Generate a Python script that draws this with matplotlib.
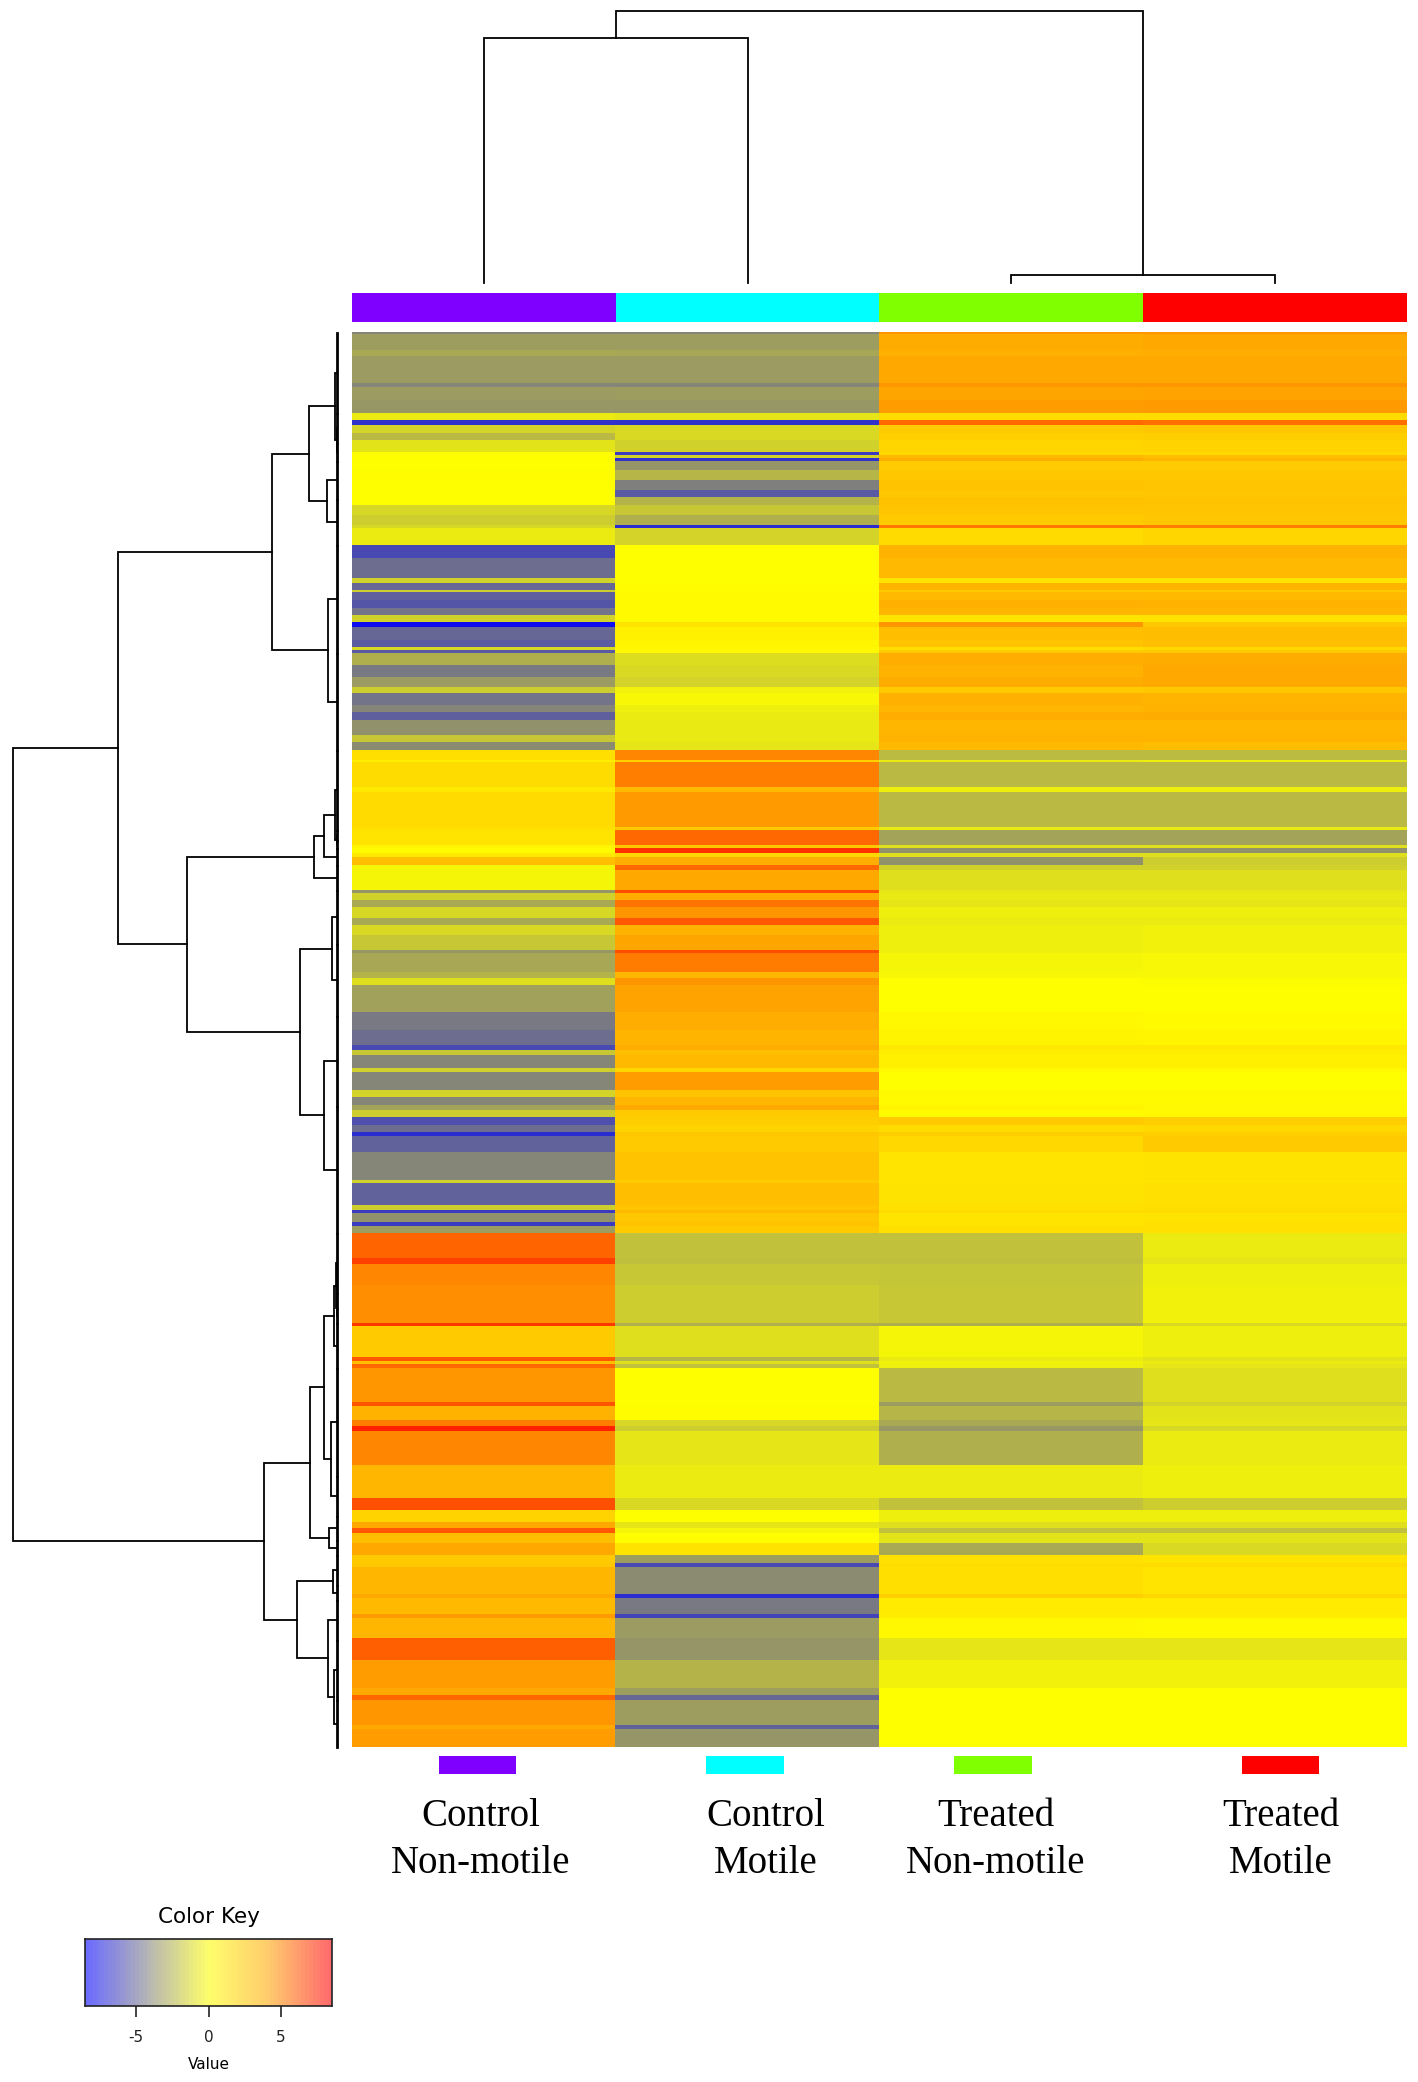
import numpy as np
import matplotlib
matplotlib.use('Agg')
import matplotlib.pyplot as plt
from matplotlib.colors import LinearSegmentedColormap, Normalize
from matplotlib.patches import Rectangle

# ---- data: row blocks of the heatmap (number of rows, value per sample) ----
seg_rows = [2, 16, 6, 27, 4, 13, 13, 7, 5, 8, 7, 12, 3, 3, 3, 9, 10, 10, 7, 8, 10, 10, 3, 17, 13, 20,
            5, 7, 2, 8, 8, 7, 7, 5, 13, 7, 3, 3, 12, 12, 10, 6, 12, 7, 8, 15, 7, 8,
            10, 2, 25, 5, 35,
            3, 15, 3, 5, 4, 8, 5, 20, 3, 7, 7, 11, 7, 10, 15, 3, 19, 6, 7, 27, 18, 15, 5,
            5, 13, 4, 18, 7, 8, 5, 7, 8, 7, 4, 16, 28, 3, 22, 5, 3, 9, 4, 7,
            25, 6, 21, 38, 3, 31, 4, 3, 4, 34, 4, 14, 6, 5, 34, 33, 12, 12, 6, 5, 10, 12, 8, 4, 27, 4,
            16, 4, 20, 22, 28, 7, 5, 25, 4, 18]

ctrl_nonmotile = [-4.0, -3.2, -2.8, -3.3, -4.0, -3.3, -3.4, -0.6, -6.8, -1.4, -2.3, -0.9, 0.0, 0.0, 0.0, 0.0,
                  0.1, 0.0, 0.0, 0.0, -1.3, -1.6, -1.3, -0.6, -6.0, -4.8,
                  -1.5, -5.0, -1.6, -5.3, -5.6, -4.6, -1.5, -8.0, -5.0, -5.4, -1.3, -5.5, -2.6, -4.4, -3.3,
                  -1.6, -4.6, -4.0, -5.3, -3.6, -1.8, -3.8,
                  1.5, 0.8, 1.6, 1.0, 1.7,
                  1.5, 1.2, 0.4, 0.2, 1.0, 3.0, -0.3, -0.3, -3.5, -1.5, -2.8, -1.3, -2.8, -1.2, -1.8, -3.4,
                  -2.9, -2.5, -1.0, -3.1, -4.4, -4.8, -6.0,
                  -1.8, -4.0, -1.5, -4.0, -1.4, -4.0, -3.0, -1.6, -5.8, -4.8, -7.0, -5.2, -4.0, -1.5, -5.2,
                  -1.6, -6.5, -3.6, -6.5, -3.2,
                  5.9, 6.8, 5.0, 4.8, 7.0, 2.5, 6.2, 3.0, 5.8, 4.6, 6.3, 3.6, 5.2, 7.6, 5.0, 3.4, 6.4, 2.0,
                  4.0, 6.2, 3.0, 4.0, 2.4, 2.6, 3.4, 4.0, 3.2, 4.5, 3.4, 6.0, 4.4, 4.0, 5.8, 4.6, 4.0, 4.4]

ctrl_motile = [-4.0, -3.2, -2.9, -3.3, -4.0, -3.2, -3.4, -0.8, -6.8, -1.2, -1.2, -1.5, -6.5, -1.5, -6.8, -3.5,
               -2.4, -4.2, -5.5, -2.5, -1.8, -2.6, -7.0, -1.4, 0.0, 0.0,
               0.0, 0.1, 0.1, 0.2, 0.2, 0.2, 0.2, 1.2, 0.6, 0.4, 0.3, 0.3, -1.1, -1.2, -1.4, -0.4, -0.2,
               -0.5, -0.6, -0.7, -0.7, -0.8,
               5.0, 2.2, 5.2, 3.2, 4.5,
               2.5, 5.8, 2.6, 7.2, 1.8, 3.8, 5.8, 4.0, 6.5, 3.8, 5.5, 4.6, 6.2, 3.6, 4.2, 6.5, 5.3, 3.4,
               4.6, 4.3, 3.8, 3.5, 3.8,
               3.0, 3.2, 1.9, 4.4, 2.8, 3.4, 4.0, 2.4, 2.3, 2.0, 2.6, 2.4, 2.8, 2.5, 3.0, 2.8, 3.2, 2.6,
               2.8, 2.5,
               -2.0, -2.1, -1.8, -1.6, -2.6, -1.0, -2.4, -1.0, -2.0, 0.0, 0.0, 0.1, -1.3, -1.6, -0.8,
               -0.6, -1.2, 0.0, -0.8, -0.3, 0.0, 1.3, -3.2, -6.0, -3.8, -7.0, -4.4, -6.2, -3.3, -3.5,
               -2.5, -3.2, -5.0, -3.2, -5.2, -3.5]

treated_nonmotile = [4.6, 3.9, 3.7, 4.0, 4.6, 4.2, 4.4, 1.6, 5.8, 2.4, 2.2, 1.9, 1.8, 3.2, 3.8, 2.4, 2.6,
                     2.8, 2.6, 2.9, 2.7, 2.5, 5.4, 1.7, 3.6, 3.3,
                     1.2, 3.5, 2.5, 3.3, 3.7, 3.4, 1.2, 4.6, 3.0, 2.8, 1.5, 2.4, 3.8, 3.6, 3.9, 2.5, 3.7,
                     3.4, 3.8, 3.4, 3.6, 3.3,
                     -2.2, -0.6, -2.3, -0.5, -2.3,
                     -0.7, -3.0, -1.0, -3.6, -1.0, -3.6, -1.5, -1.0, -0.8, -0.7, -0.8, -0.5, -0.6, -0.5,
                     -0.5, -0.5, -0.3, -0.2, 0.0, 0.0, 0.3, 0.5, 1.0,
                     0.8, 0.7, 0.3, 0.0, 0.2, 0.2, 0.4, 0.2, 2.4, 1.6, 2.3, 1.8, 1.2, 1.2, 1.3, 1.5, 1.6,
                     1.2, 1.2, 1.4,
                     -2.0, -2.1, -1.9, -1.8, -2.6, -0.3, -0.6, -0.4, -0.5, -2.3, -3.2, -2.4, -2.8, -3.4,
                     -2.6, -0.6, -2.0, -0.5, -1.0, -2.0, -0.9, -2.8, 1.4, 1.6, 1.5, 2.2, 0.9, 0.8, 0.3,
                     -0.8, -0.4, 0.0, 0.0, 0.0, 0.0, 0.0]

treated_motile = [4.6, 4.0, 3.8, 4.1, 4.6, 4.3, 4.5, 1.6, 5.6, 2.6, 2.3, 2.0, 1.8, 3.0, 3.5, 2.5, 2.6, 2.7,
                  2.6, 2.8, 2.7, 2.6, 5.2, 1.9, 3.6, 3.3,
                  1.2, 3.5, 2.5, 3.2, 3.6, 3.4, 1.3, 2.6, 3.1, 3.0, 1.8, 2.4, 3.9, 4.0, 4.1, 2.6, 3.5,
                  3.6, 3.9, 3.4, 3.6, 3.1,
                  -2.2, -0.5, -2.3, -0.5, -2.3,
                  -0.7, -3.0, -1.0, -3.6, -1.0, -1.6, -1.5, -1.0, -0.8, -0.7, -0.8, -0.5, -0.6, -0.4,
                  -0.4, -0.4, -0.2, -0.2, -0.1, 0.0, 0.2, 0.4, 1.0,
                  0.8, 0.7, 0.3, 0.0, 0.2, 0.2, 0.3, 0.3, 2.3, 1.8, 2.2, 2.4, 1.3, 1.2, 1.4, 1.5, 1.6,
                  1.3, 1.4, 1.4,
                  -0.6, -0.8, -0.5, -0.4, -1.2, -0.5, -0.9, -0.6, -0.8, -1.0, -1.4, -0.9, -0.8, -1.3,
                  -0.6, -0.5, -1.6, -0.5, -1.0, -2.0, -0.9, -1.2, 1.2, 1.6, 1.2, 1.8, 0.9, 0.8, 0.2,
                  -0.8, -0.4, 0.0, 0.0, 0.0, 0.0, 0.0]

sample_labels = [('Control', 'Non-motile'), ('Control', 'Motile'),
                 ('Treated', 'Non-motile'), ('Treated', 'Motile')]
sample_colors = ['#8000ff', '#00ffff', '#80ff00', '#ff0000']

# column dendrogram: (height, left, right), leaves are column indices
col_tree = (272, (245, 0, 1), (8, 2, 3))

# row dendrogram: (height, left, right), leaves are bundles of consecutive rows
row_tree = (325,
            (220,
             (66,
              (29, (3, 81, (1.5, 30, 18)), (11, 38, 46)),
              (10, 108, 97)),
             (151,
              (24, (14, (3, 80, (1.5, 10, 8)), 17), 25),
              (38, (6, 54, 72), (14, 90, 127)))),
            (74,
             (28,
              (14, (4, (2.5, 60, (1.5, 15, 15)), 45), (7, 108, 40)),
              (9, 24, 15)),
             (41, (5, 30, 15), (10, 40, (4, 60, 47)))))

key_ticks = [-5, 0, 5]
vmin, vmax = -8.5, 8.5

# ---- figure ----
W, H = 1418, 2082
fig = plt.figure(figsize=(W / 100, H / 100), dpi=100)
HM_L, HM_R = 352, 1407


def add_ax(left, top, right, bottom):
    return fig.add_axes([left / W, 1 - bottom / H, (right - left) / W, (bottom - top) / H])


cmap = LinearSegmentedColormap.from_list('bgyor', ['#0000ff', '#7f7f7f', '#ffff00', '#ffa500', '#ff0000'])
norm = Normalize(vmin=vmin, vmax=vmax)

mat = np.column_stack([np.repeat(c, seg_rows) for c in
                       (ctrl_nonmotile, ctrl_motile, treated_nonmotile, treated_motile)])
n_rows = mat.shape[0]

ax_hm = add_ax(HM_L, 332, HM_R, 1747)
ax_hm.imshow(mat, cmap=cmap, norm=norm, aspect='auto', interpolation='nearest',
             extent=(0, 4, n_rows, 0))
ax_hm.set_axis_off()

# side colours
ax_side = add_ax(HM_L, 293, HM_R, 322)
for i, c in enumerate(sample_colors):
    ax_side.add_patch(Rectangle((i, 0), 1, 1, color=c, lw=0))
ax_side.set_xlim(0, 4)
ax_side.set_ylim(0, 1)
ax_side.set_axis_off()

# column dendrogram
ax_cd = add_ax(HM_L, 11, HM_R, 283)
lw = 1.3


def draw_col(node):
    if isinstance(node, int):
        return node + 0.5, 0
    h, left, right = node
    x1, h1 = draw_col(left)
    x2, h2 = draw_col(right)
    ax_cd.plot([x1, x1, x2, x2], [h1, h, h, h2], color='black', lw=lw, clip_on=False,
               solid_joinstyle='miter')
    return (x1 + x2) / 2, h


draw_col(col_tree)
ax_cd.set_xlim(0, 4)
ax_cd.set_ylim(0, col_tree[0])
ax_cd.set_axis_off()

# row dendrogram
ax_rd = add_ax(13, 332, 338, 1747)
leaf_h = 1.0


def draw_row(node, start):
    if isinstance(node, int):
        ax_rd.plot([leaf_h, leaf_h], [start + 0.5, start + node - 0.5], color='black', lw=2.0,
                   clip_on=False)
        return start + node / 2, start + node, leaf_h
    h, left, right = node
    y1, mid, h1 = draw_row(left, start)
    y2, end, h2 = draw_row(right, mid)
    ax_rd.plot([h1, h, h, h2], [y1, y1, y2, y2], color='black', lw=lw, clip_on=False,
               solid_joinstyle='miter')
    return (y1 + y2) / 2, end, h


draw_row(row_tree, 0)
ax_rd.set_xlim(row_tree[0], 0)
ax_rd.set_ylim(n_rows, 0)
ax_rd.set_axis_off()

# bottom markers and labels
ax_lab = add_ax(HM_L, 1747, HM_R, 1900)
ax_lab.set_xlim(0, 4)
ax_lab.set_ylim(1900, 1747)
ax_lab.set_axis_off()
marker_x = [0.476, 1.49, 2.43, 3.52]
label_x = [0.487, 1.57, 2.44, 3.52]
for mx, lx, c, (l1, l2) in zip(marker_x, label_x, sample_colors, sample_labels):
    ax_lab.add_patch(Rectangle((mx - 0.147, 1756), 0.294, 18, color=c, lw=0))
    ax_lab.text(lx, 1826, l1, ha='center', va='baseline', fontsize=28, family='Liberation Serif')
    ax_lab.text(lx, 1873, l2, ha='center', va='baseline', fontsize=28, family='Liberation Serif')

# colour key
ax_key = add_ax(85, 1939, 332, 2006)
grad = np.linspace(vmin, vmax, 64)[np.newaxis, :]
ax_key.imshow(grad, cmap=cmap, norm=norm, aspect='auto', alpha=0.58,
              extent=(vmin, vmax, 0, 1), interpolation='nearest')
ax_key.set_xlim(vmin, vmax)
ax_key.set_yticks([])
ax_key.set_xticks(key_ticks)
ax_key.set_xticklabels([str(t) for t in key_ticks])
ax_key.tick_params(axis='x', direction='out', length=8, width=1.2, colors='#222222',
                   labelsize=11, pad=9)
for sp in ax_key.spines.values():
    sp.set_color('#222222')
    sp.set_linewidth(1.2)
ax_key.set_xlabel('Value', fontsize=11, labelpad=9)
fig.text(208.5 / W, 1 - 1917 / H, 'Color Key', ha='center', va='center', fontsize=15.5)

fig.savefig('out.png', dpi=100, facecolor='white')
